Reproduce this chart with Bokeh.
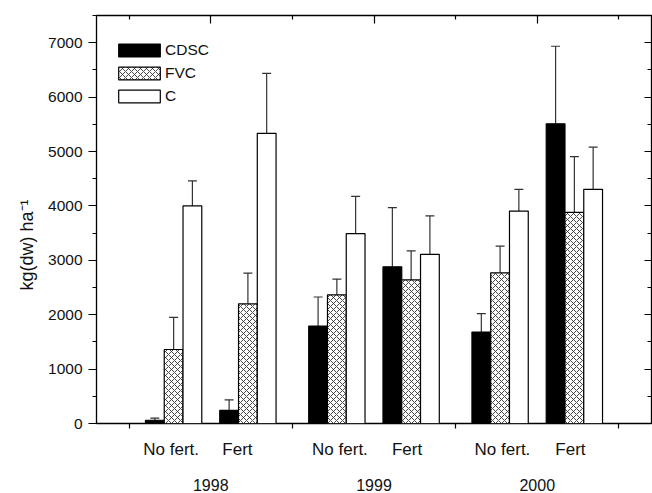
from bokeh.plotting import figure
from bokeh.models import (Range1d, LinearAxis, FixedTicker, Legend,
                          LegendItem, ColumnDataSource, Title)
from bokeh.embed import file_html
from bokeh.resources import INLINE

# ---------------- data ----------------
years = ["1998", "1999", "2000"]
treatments = ["No fert.", "Fert"]
series_names = ["CDSC", "FVC", "C"]
# group order: 1998 No fert., 1998 Fert, 1999 No fert., 1999 Fert, 2000 No fert., 2000 Fert
cdsc = [60, 240, 1790, 2880, 1680, 5510]
cdsc_err = [40, 195, 535, 1090, 340, 1425]
fvc = [1360, 2200, 2365, 2640, 2770, 3880]
fvc_err = [590, 565, 290, 535, 490, 1025]
cc = [4000, 5335, 3490, 3110, 3905, 4305]
cc_err = [460, 1100, 685, 705, 400, 775]
y_ticks = [0, 1000, 2000, 3000, 4000, 5000, 6000, 7000]
y_label = "kg(dw) ha\u207b\u00b9"

# ---------------- layout constants ----------------
FONT = "Liberation Sans"
TXT = "#111111"
BAR_W = 0.23
SUB_DX = 0.455
year_centers = [1.5 + 2 * i for i in range(len(years))]
label_dx = [(-0.485, 0.327), (-0.417, 0.405), (-0.426, 0.407)]
bounds = [yc - 1 for yc in year_centers] + [year_centers[-1] + 1]

group_x = []
for yc in year_centers:
    group_x += [yc - SUB_DX, yc + SUB_DX]

p = figure(width=652, height=493, x_range=Range1d(0.1, 6.9), y_range=Range1d(0, 7500),
           output_backend="svg", toolbar_location=None,
           x_axis_location=None, y_axis_location=None,
           min_border_left=96, min_border_right=1, min_border_top=15, min_border_bottom=70)
p.xgrid.visible = False
p.ygrid.visible = False
p.outline_line_color = "black"
p.outline_line_width = 1.3
p.background_fill_color = "white"
p.border_fill_color = "white"

styles = [
    dict(fill_color="black", hatch_pattern=None),
    dict(fill_color="white", hatch_pattern="x"),
    dict(fill_color="white", hatch_pattern=None),
]
vals = [cdsc, fvc, cc]
errs = [cdsc_err, fvc_err, cc_err]
renderers = []
for k, (v, e, st) in enumerate(zip(vals, errs, styles)):
    xs = [g + (k - 1) * BAR_W for g in group_x]
    src = ColumnDataSource(dict(x=xs, top=v, up=[a + b for a, b in zip(v, e)],
                                x0=[x - 0.055 for x in xs], x1=[x + 0.055 for x in xs]))
    p.segment(x0="x", y0="top", x1="x", y1="up", source=src, line_color="#333333", line_width=1.2)
    p.segment(x0="x0", y0="up", x1="x1", y1="up", source=src, line_color="#333333", line_width=1.2)
    kw = dict(line_color="black", line_width=1.2, fill_color=st["fill_color"])
    if st["hatch_pattern"]:
        kw.update(hatch_pattern=st["hatch_pattern"], hatch_scale=6, hatch_color="#333333",
                  hatch_weight=0.9)
    r = p.vbar(x="x", top="top", width=BAR_W, bottom=0, source=src, **kw)
    renderers.append(r)


def blank(ax, ticks):
    ax.axis_line_color = None
    ax.major_label_standoff = 0
    ax.major_label_text_font_size = "0px"
    ax.major_label_overrides = {t: "" for t in ticks}


# ---------------- axes ----------------
minor_y = [t + 500 for t in y_ticks]
left = LinearAxis(ticker=FixedTicker(ticks=y_ticks, minor_ticks=minor_y))
left.axis_line_color = None
left.major_tick_out = 8
left.major_tick_in = 0
left.minor_tick_out = 4
left.minor_tick_in = 0
left.major_tick_line_width = 1.2
left.minor_tick_line_width = 1.2
left.major_label_standoff = 6
left.major_label_text_font = FONT
left.major_label_text_font_size = "15.5px"
left.major_label_text_color = TXT
p.add_layout(left, "left")

# y axis title, shifted along the axis like in the reference
ytitle = Title(text=y_label, align="left", offset=133, standoff=17,
               text_font=FONT, text_font_size="18px", text_font_style="normal",
               text_color=TXT)
p.add_layout(ytitle, "left")

right = LinearAxis(ticker=FixedTicker(ticks=y_ticks, minor_ticks=minor_y))
blank(right, y_ticks)
right.major_tick_out = 0
right.major_tick_in = 7
right.minor_tick_out = 0
right.minor_tick_in = 4
right.major_tick_line_width = 1.2
right.minor_tick_line_width = 1.2
p.add_layout(right, "right")

top_ax = LinearAxis(ticker=FixedTicker(ticks=year_centers, minor_ticks=bounds))
blank(top_ax, year_centers)
top_ax.major_tick_out = 0
top_ax.major_tick_in = 8
top_ax.minor_tick_out = 0
top_ax.minor_tick_in = 4
top_ax.major_tick_line_width = 1.2
top_ax.minor_tick_line_width = 1.2
p.add_layout(top_ax, "above")

# bottom: ticks at year boundaries (minor), treatment labels (major, no tick)
cat_pos = []
cat_txt = {}
for i, yc in enumerate(year_centers):
    for j, t in enumerate(treatments):
        xpos = yc + label_dx[i][j]
        cat_pos.append(xpos)
        cat_txt[xpos] = t
bottom = LinearAxis(ticker=FixedTicker(ticks=cat_pos, minor_ticks=bounds))
bottom.axis_line_color = None
bottom.major_tick_out = 0
bottom.major_tick_in = 0
bottom.minor_tick_out = 5
bottom.minor_tick_in = 0
bottom.minor_tick_line_width = 1.2
bottom.major_label_overrides = cat_txt
bottom.major_label_standoff = 11
bottom.major_label_text_font = FONT
bottom.major_label_text_font_size = "17px"
bottom.major_label_text_color = TXT
p.add_layout(bottom, "below")

year_ax = LinearAxis(ticker=FixedTicker(ticks=year_centers, minor_ticks=[]))
year_ax.axis_line_color = None
year_ax.major_tick_out = 0
year_ax.major_tick_in = 0
year_ax.major_label_overrides = {yc: y for yc, y in zip(year_centers, years)}
year_ax.major_label_standoff = 17
year_ax.major_label_text_font = FONT
year_ax.major_label_text_font_size = "16px"
year_ax.major_label_text_color = TXT
p.add_layout(year_ax, "below")

# ---------------- legend ----------------
legend = Legend(items=[LegendItem(label=n, renderers=[r]) for n, r in zip(series_names, renderers)],
                location=(17, 318), orientation="vertical",
                glyph_width=52, glyph_height=16, label_height=16, spacing=5,
                padding=0, margin=0, label_standoff=0,
                border_line_color=None, background_fill_alpha=0,
                label_text_font=FONT, label_text_font_size="15.5px",
                label_text_color=TXT)
p.add_layout(legend)

open("out.html", "w").write(file_html(p, INLINE))
